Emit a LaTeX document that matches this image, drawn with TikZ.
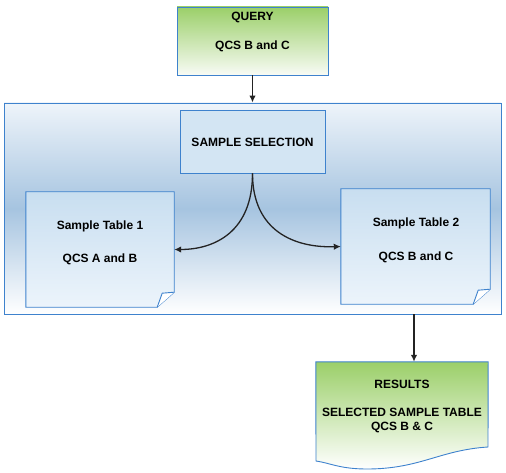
\documentclass[tikz,border=0pt]{standalone}
\usepackage{fontspec}
\setmainfont{Liberation Sans}
\usetikzlibrary{arrows.meta}
\definecolor{bord}{RGB}{62,130,205}
\definecolor{grn}{RGB}{155,207,105}
\definecolor{grnlo}{RGB}{248,251,245}
\definecolor{cmid}{RGB}{166,196,224}
\definecolor{ctop}{RGB}{238,244,250}
\definecolor{selfill}{RGB}{211,229,243}
\definecolor{ttop}{RGB}{200,222,240}
\definecolor{tbot}{RGB}{236,244,251}
\definecolor{arrc}{RGB}{35,35,35}
\tikzset{
  boxnode/.style={draw=none, inner sep=0pt, minimum width=#1},
  txt/.style={font=\fontsize{12}{14}\selectfont\bfseries, inner sep=0pt},
  arr/.style={draw=arrc, line width=1.3pt, -{Latex[length=7pt,width=6.5pt]}},
  outl/.style={draw=bord, line width=0.9pt},
}
\begin{document}
\begin{tikzpicture}[x=1pt,y=-1pt]
\useasboundingbox (0,0) rectangle (506,473);
% container
\node[boxnode=497pt, minimum height=211pt, outl, top color=ctop, bottom color=white, middle color=cmid] (box) at (252.5,208.5) {};
% query
\node[boxnode=151pt, minimum height=68pt, outl, top color=grn, bottom color=grnlo] (query) at (252.5,41) {};
\node[txt] at (252.5,17) {QUERY};
\node[txt] at (252.5,46) {QCS B and C};
% sample selection
\node[boxnode=145pt, minimum height=63pt, outl, fill=selfill] (sel) at (252.5,141.5) {};
\node[txt] at (252.5,142) {SAMPLE SELECTION};
% sample table 1
\node[boxnode=148pt, minimum height=115pt] (t1) at (100,249.5) {};
\shade[top color=ttop, bottom color=tbot, outl] (t1.north west) -- (t1.north east) -- ([yshift=15pt]t1.south east) -- ([xshift=-17pt]t1.south east) -- (t1.south west) -- cycle;
\filldraw[outl, fill=white] ([xshift=-17pt]t1.south east) -- ([xshift=-12pt,yshift=14pt]t1.south east) -- ([yshift=15pt]t1.south east);
\node[txt] at (100,226) {Sample Table 1};
\node[txt] at (100,259) {QCS A and B};
% sample table 2
\node[boxnode=149pt, minimum height=115pt] (t2) at (415.5,246.5) {};
\shade[top color=ttop, bottom color=tbot, outl] (t2.north west) -- (t2.north east) -- ([yshift=15pt]t2.south east) -- ([xshift=-17pt]t2.south east) -- (t2.south west) -- cycle;
\filldraw[outl, fill=white] ([xshift=-17pt]t2.south east) -- ([xshift=-12pt,yshift=14pt]t2.south east) -- ([yshift=15pt]t2.south east);
\node[txt] at (416,223) {Sample Table 2};
\node[txt] at (416,257) {QCS B and C};
% results
\node[boxnode=172pt, minimum height=100pt] (res) at (402,412) {};
\shade[top color=grn, bottom color=white, outl] (res.north west) -- (res.north east) -- (488,447) .. controls (440,450) and (420,469) .. (367,469) .. controls (340,469) and (330,463) .. (316,461) -- cycle;
\node[txt] at (402,384) {RESULTS};
\node[txt] at (402,412) {SELECTED SAMPLE TABLE};
\node[txt] at (402,427) {QCS B \& C};
% connectors
\draw[arr] (query.south) -- (query.south |- box.north);
\draw[arr] (sel.south) .. controls ([yshift=-58pt]sel.south) and (215,249.5) .. (t1.east);
\draw[arr] (sel.south) .. controls ([yshift=-58pt]sel.south) and (295,248) .. (t2.west);
\draw[arr] ([xshift=12pt]res.north |- box.south) -- ([xshift=12pt]res.north);
\end{tikzpicture}
\end{document}
